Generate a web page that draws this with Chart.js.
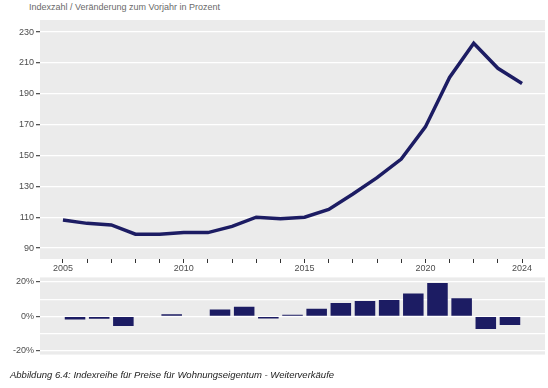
<!DOCTYPE html>
<html>
<head>
<meta charset="utf-8">
<script src="https://cdn.jsdelivr.net/npm/chart.js@4.4.1/dist/chart.umd.min.js"></script>
<style>
  body { margin: 0; background: #fff; font-family: "Liberation Sans", Arial, sans-serif; }
  #wrap { position: relative; width: 548px; height: 388px; }
  .title { position: absolute; left: 29px; top: 2px; font-size: 9px; color: #6a6a6a; }
  .caption { position: absolute; left: 10px; top: 369px; font-size: 9.5px; font-style: italic; color: #222; }
  canvas { position: absolute; left: 0; }
</style>
</head>
<body>
<div id="wrap">
  <div class="title">Indexzahl / Veränderung zum Vorjahr in Prozent</div>
  <canvas id="indexChart" width="548" height="276" style="top:0"></canvas>
  <canvas id="changeChart" width="548" height="92" style="top:270px"></canvas>
  <div class="caption">Abbildung 6.4: Indexreihe für Preise für Wohnungseigentum - Weiterverkäufe</div>
</div>
<script>
// index series (top panel)
const years = [2005, 2006, 2007, 2008, 2009, 2010, 2011, 2012, 2013, 2014,
               2015, 2016, 2017, 2018, 2019, 2020, 2021, 2022, 2023, 2024];
const indexValues = [108.2, 106, 105, 99, 99, 100, 100, 104, 110, 109,
                     110, 115, 125, 135.6, 147.7, 168.5, 200.6, 222.7, 206.5, 196.7];

// change vs previous year in % (bottom panel), drawn between the years
const changeYears = [2006, 2007, 2008, 2009, 2010, 2011, 2012, 2013, 2014, 2015,
                     2016, 2017, 2018, 2019, 2020, 2021, 2022, 2023, 2024];
const changeValues = [-1.8, -1.3, -5.6, 0, 1.2, 0, 4.0, 5.6, -1.2, 1.0,
                      4.5, 7.8, 8.9, 9.5, 13.3, 19.3, 10.5, -7.3, -5.0];

const yearLabels = [2005, 2010, 2015, 2020, 2024];
const indexTicks = [90, 110, 130, 150, 170, 190, 210, 230];

const navy = '#1c1c63';
const tickColor = '#4d4d4d';
const font = { family: '"Liberation Sans", Arial, sans-serif', size: 9 };

const panelBg = {
    id: 'panelBg',
    beforeDraw(chart) {
        const a = chart.chartArea;
        chart.ctx.save();
        chart.ctx.fillStyle = '#ebebeb';
        chart.ctx.fillRect(a.left, a.top, a.right - a.left, a.bottom - a.top);
        chart.ctx.restore();
    }
};

const xMin = 2004.05, xMax = 2024.95;

new Chart(document.getElementById('indexChart'), {
    type: 'line',
    data: {
        datasets: [{
            data: years.map((y, i) => ({ x: y, y: indexValues[i] })),
            borderColor: navy,
            borderWidth: 3.5,
            pointRadius: 0,
            tension: 0,
            fill: false
        }]
    },
    options: {
        responsive: false,
        animation: false,
        layout: { padding: { top: 20, right: 3 } },
        plugins: { legend: { display: false }, tooltip: { enabled: false } },
        scales: {
            x: {
                type: 'linear',
                min: xMin, max: xMax,
                border: { display: false },
                grid: { drawOnChartArea: false, tickLength: 4, tickColor: '#333' },
                ticks: {
                    stepSize: 1, includeBounds: false, autoSkip: false, maxRotation: 0,
                    padding: 0, color: tickColor, font: font,
                    callback: v => yearLabels.includes(v) ? String(v) : ''
                },
                afterFit: s => { s.height = 17; }
            },
            y: {
                min: 82.9, max: 237.8,
                border: { display: false },
                grid: { color: '#fff', lineWidth: 1.3, tickLength: 4, tickColor: '#555' },
                afterBuildTicks: s => { s.ticks = indexTicks.map(v => ({ value: v })); },
                ticks: { padding: 2, color: tickColor, font: font },
                afterFit: s => { s.width = 40; }
            }
        }
    },
    plugins: [panelBg]
});

new Chart(document.getElementById('changeChart'), {
    type: 'bar',
    data: {
        datasets: [{
            data: changeYears.map((y, i) => ({ x: y - 0.5, y: changeValues[i] })),
            backgroundColor: navy,
            barPercentage: 0.85,
            categoryPercentage: 1
        }]
    },
    options: {
        responsive: false,
        animation: false,
        layout: { padding: { top: 7, bottom: 5, right: 3 } },
        plugins: { legend: { display: false }, tooltip: { enabled: false } },
        scales: {
            x: {
                type: 'linear',
                min: xMin, max: xMax,
                offset: false,
                display: false
            },
            y: {
                min: -22.1, max: 22.6,
                border: { display: false },
                grid: {
                    color: '#fff', lineWidth: 1.2, tickLength: 4,
                    tickColor: c => c.tick && c.tick.value % 20 === 0 ? '#555' : 'rgba(0,0,0,0)'
                },
                ticks: {
                    stepSize: 10, includeBounds: false, padding: 2, color: tickColor, font: font,
                    callback: v => v % 20 === 0 ? v + '%' : ''
                },
                afterFit: s => { s.width = 40; }
            }
        }
    },
    plugins: [panelBg]
});
</script>
</body>
</html>
